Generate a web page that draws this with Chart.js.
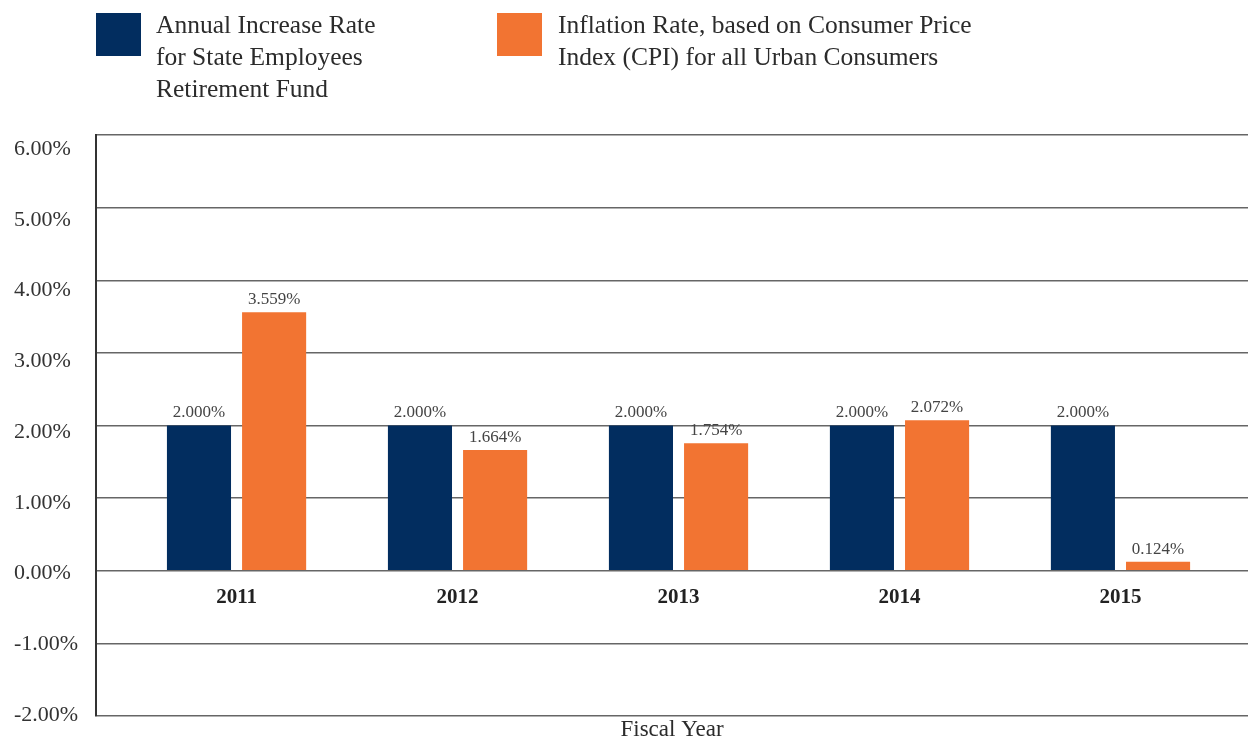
<!DOCTYPE html>
<html>
<head>
<meta charset="utf-8">
<script src="https://cdn.jsdelivr.net/npm/chart.js@4.4.1/dist/chart.umd.min.js"></script>
<style>
  body { margin: 0; background: #fff; }
  #wrap { position: relative; width: 1248px; height: 740px; }
  #chartBox { position: absolute; left: 0; top: 0; width: 1248px; height: 740px; }
  .key { position: absolute; top: 13px; width: 45px; height: 43px; }
  .keyText { position: absolute; top: 9px; font-family: "Liberation Serif", serif; font-size: 25.5px; line-height: 32px; color: #2b2b2b; }
</style>
</head>
<body>
<div id="wrap">
  <div id="chartBox"><canvas id="grafica"></canvas></div>
  <div class="key" style="left:96px;background:#022d5f"></div>
  <div class="keyText" style="left:156px">Annual Increase Rate<br>for State Employees<br>Retirement Fund</div>
  <div class="key" style="left:497px;background:#f27432"></div>
  <div class="keyText" style="left:558px">Inflation Rate, based on Consumer Price<br>Index (CPI) for all Urban Consumers</div>
</div>
<script>
// Datos del gráfico
const years = ['2011', '2012', '2013', '2014', '2015'];
const increaseRate = [2.000, 2.000, 2.000, 2.000, 2.000];
const inflationRate = [3.559, 1.664, 1.754, 2.072, 0.124];
const yTicks = [-2, -1, 0, 1, 2, 3, 4, 5, 6];

const serif = '"Liberation Serif", "Times New Roman", serif';

// Etiquetas de valor encima de cada barra
const valueLabels = {
    id: 'valueLabels',
    afterDatasetsDraw(chart) {
        const ctx = chart.ctx;
        ctx.save();
        ctx.font = '17px ' + serif;
        ctx.fillStyle = '#444';
        ctx.textAlign = 'center';
        ctx.textBaseline = 'bottom';
        chart.data.datasets.forEach((ds, i) => {
            chart.getDatasetMeta(i).data.forEach((bar, j) => {
                ctx.fillText(ds.data[j].y.toFixed(3) + '%', bar.x, bar.y - 4);
            });
        });
        ctx.restore();
    }
};

new Chart(document.getElementById('grafica'), {
    type: 'bar',
    data: {
        datasets: [{
            label: 'Annual Increase Rate for State Employees Retirement Fund',
            data: increaseRate.map((v, i) => ({x: i, y: v})),
            backgroundColor: '#022d5f',
            categoryPercentage: 0.68,
            barPercentage: 0.853
        }, {
            label: 'Inflation Rate, based on Consumer Price Index (CPI) for all Urban Consumers',
            data: inflationRate.map((v, i) => ({x: i, y: v})),
            backgroundColor: '#f27432',
            categoryPercentage: 0.68,
            barPercentage: 0.853
        }]
    },
    options: {
        responsive: true,
        maintainAspectRatio: false,
        animation: false,
        layout: { padding: { top: 135, left: 14, right: 0, bottom: 0 } },
        plugins: {
            legend: { display: false },
            tooltip: { enabled: false }
        },
        scales: {
            x: {
                type: 'linear',
                position: { y: 0 },
                offset: false,
                min: -0.636,
                max: 4.577,
                grid: { display: false },
                border: { display: false },
                afterBuildTicks: s => { s.ticks = years.map((y, i) => ({ value: i })); },
                ticks: {
                    padding: 6,
                    maxRotation: 0,
                    autoSkip: false,
                    color: '#222',
                    font: { family: serif, size: 21, weight: 'bold' },
                    callback: v => years[v]
                }
            },
            x2: {
                type: 'linear',
                position: 'bottom',
                grid: { display: false },
                border: { display: false },
                ticks: { display: false },
                title: {
                    display: true,
                    text: 'Fiscal Year',
                    color: '#2b2b2b',
                    padding: { top: 0, bottom: -4 },
                    font: { family: serif, size: 23 }
                },
                afterFit: s => { s.height = 24; }
            },
            y: {
                min: -2,
                max: 6,
                afterBuildTicks: s => { s.ticks = yTicks.map(v => ({ value: v })); },
                grid: { color: '#666', lineWidth: 1.5, drawTicks: false },
                border: { display: true, color: '#333', width: 2 },
                ticks: { display: false },
                afterFit: s => { s.width = 0; }
            },
            // eje solo para las etiquetas (en el original van un poco desfasadas)
            yLabels: {
                position: 'left',
                min: -2.014,
                max: 6.198,
                afterBuildTicks: s => { s.ticks = yTicks.map(v => ({ value: v })); },
                grid: { display: false },
                border: { display: false },
                afterFit: s => { s.width = 82; },
                ticks: {
                    crossAlign: 'far',
                    color: '#333',
                    font: { family: serif, size: 22 },
                    callback: v => v.toFixed(2) + '%'
                }
            }
        }
    },
    plugins: [valueLabels]
});
</script>
</body>
</html>
